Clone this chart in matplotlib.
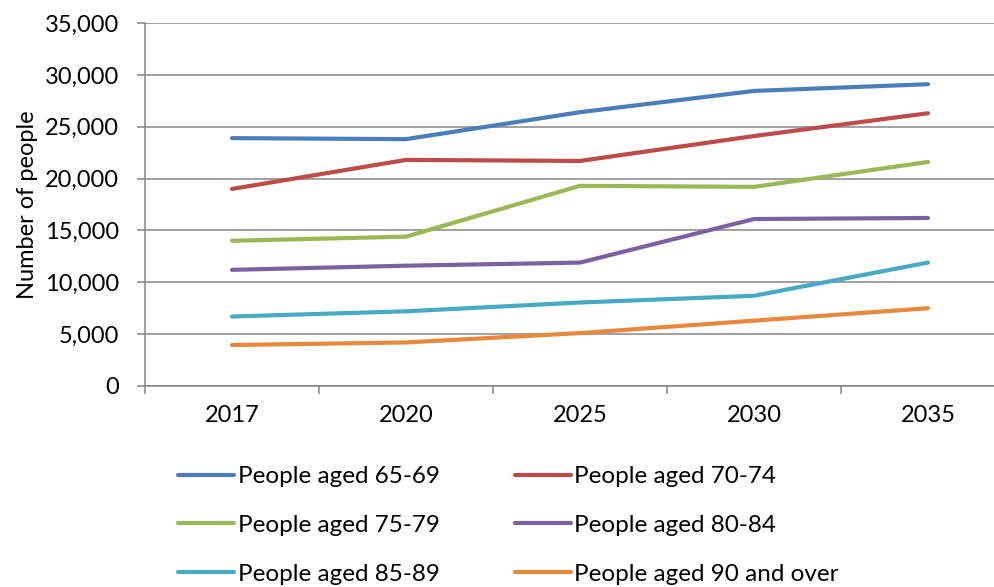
import matplotlib.pyplot as plt
from matplotlib.ticker import FuncFormatter

# data
years = ['2017', '2020', '2025', '2030', '2035']
aged_65_69 = [23900, 23800, 26400, 28450, 29100]
aged_70_74 = [19000, 21800, 21700, 24100, 26300]
aged_75_79 = [14000, 14400, 19300, 19200, 21600]
aged_80_84 = [11200, 11600, 11900, 16100, 16200]
aged_85_89 = [6700, 7200, 8050, 8700, 11900]
aged_90_over = [3950, 4200, 5100, 6300, 7500]

series = [
    ('People aged 65-69', aged_65_69, '#4A7EBB'),
    ('People aged 70-74', aged_70_74, '#BE4B48'),
    ('People aged 75-79', aged_75_79, '#98B954'),
    ('People aged 80-84', aged_80_84, '#7D60A0'),
    ('People aged 85-89', aged_85_89, '#46AAC5'),
    ('People aged 90 and over', aged_90_over, '#E8883A'),
]

plt.rcParams['font.family'] = ['Lato', 'DejaVu Sans']
fs = 17

fig = plt.figure(figsize=(9.94, 5.87), dpi=100)
ax = fig.add_axes([145/994, 201/587, 870/994, 363/587])

x = list(range(len(years)))
lines = []
for label, vals, col in series:
    ln, = ax.plot(x, vals, color=col, lw=3, label=label, solid_capstyle='round')
    lines.append(ln)

grid_col = '#868686'
ax.set_ylim(0, 35000)
ax.set_yticks(range(0, 35001, 5000))
ax.yaxis.set_major_formatter(FuncFormatter(lambda v, p: f'{int(v):,}'))
ax.grid(axis='y', color=grid_col, lw=1.1)
ax.set_axisbelow(True)

ax.set_xlim(-0.5, 4.5)
ax.set_xticks(x)
ax.set_xticklabels(years)
ax.set_xticks([i - 0.5 for i in range(6)], minor=True)
ax.tick_params(axis='x', which='major', length=0, pad=14, labelsize=fs)
ax.tick_params(axis='x', which='minor', length=5.5, width=1.1, color=grid_col)
ax.tick_params(axis='y', length=5.5, width=1.1, color=grid_col, pad=13, labelsize=fs)

for s in ['top', 'right']:
    ax.spines[s].set_visible(False)
for s in ['left', 'bottom']:
    ax.spines[s].set_color(grid_col)
    ax.spines[s].set_linewidth(1.1)

ax.set_ylabel('Number of people', fontsize=fs, labelpad=5)

# legend filled row by row, like the reference
order = [0, 2, 4, 1, 3, 5]
fig.legend([lines[i] for i in order], [series[i][0] for i in order],
           loc='upper left', bbox_to_anchor=(178/994, 1 - 466/587), ncol=2,
           frameon=False, fontsize=17.5, handlelength=2.3, handletextpad=0.15,
           columnspacing=3.1, labelspacing=1.15, borderpad=0, borderaxespad=0)

fig.savefig('out.png', dpi=100)
